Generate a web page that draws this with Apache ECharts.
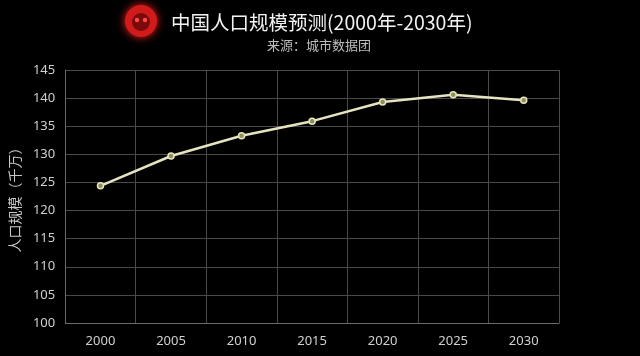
<!DOCTYPE html>
<html><head><meta charset="utf-8">
<script src="https://cdn.jsdelivr.net/npm/echarts@6/dist/echarts.min.js"></script>
<style>html,body{margin:0;padding:0;background:#000;}#c{width:640px;height:356px;}</style>
</head><body><div id="c"></div>
<script>
const years = ['2000','2005','2010','2015','2020','2025','2030'];
const population = [124.4, 129.7, 133.3, 135.9, 139.3, 140.6, 139.6];
const titleText = '中国人口规模预测(2000年-2030年)';
const subtitleText = '来源：城市数据团';
const yAxisName = '人口规模（千万）';

const chart = echarts.init(document.getElementById('c'));
chart.setOption({
  backgroundColor: '#000',
  animation: false,
  title: [{
    text: titleText,
    left: 166, top: 8,
    textStyle: {color: '#f2f2f2', fontSize: 19.5, fontWeight: 'normal', fontFamily: 'Noto Sans CJK SC'}
  }, {
    text: subtitleText,
    left: 262, top: 34,
    textStyle: {color: '#bdbdbd', fontSize: 13, fontWeight: 'normal', fontFamily: 'Noto Sans CJK SC'}
  }],
  graphic: [
    {type: 'circle', shape: {cx: 141, cy: 21, r: 16}, style: {fill: '#d11a1a', shadowBlur: 8, shadowColor: '#ff2020'}},
    {type: 'circle', shape: {cx: 141, cy: 22, r: 9}, style: {fill: '#7a0b0b'}},
    {type: 'circle', shape: {cx: 137, cy: 20, r: 2.2}, style: {fill: '#ff4a4a'}},
    {type: 'circle', shape: {cx: 145, cy: 20, r: 2.2}, style: {fill: '#ff4a4a'}}
  ],
  grid: {left: 64, right: 81, top: 70, bottom: 33},
  xAxis: {
    type: 'category', data: years, boundaryGap: true,
    axisLine: {show: true, lineStyle: {color: '#6a6a6a'}},
    axisTick: {show: false},
    splitLine: {show: true, lineStyle: {color: '#4a4a4a'}},
    axisLabel: {color: '#d0d0d0', fontSize: 13, margin: 12, fontFamily: 'Noto Sans'}
  },
  yAxis: {
    type: 'value', min: 100, max: 145, interval: 5,
    name: yAxisName, nameLocation: 'middle', nameGap: 35, nameRotate: 90,
    nameTextStyle: {color: '#c8c8c8', fontSize: 14, fontFamily: 'Noto Sans CJK SC'},
    axisLine: {show: true, lineStyle: {color: '#6a6a6a'}},
    axisTick: {show: false},
    splitLine: {show: true, lineStyle: {color: '#4a4a4a'}},
    axisLabel: {color: '#d0d0d0', fontSize: 13, margin: 10, fontFamily: 'Noto Sans'}
  },
  series: [{
    type: 'line', data: population,
    symbol: 'circle', symbolSize: 6,
    lineStyle: {color: '#e6e4c0', width: 2.5},
    itemStyle: {color: '#8f8f5a', borderColor: '#e6e4c0', borderWidth: 1.5}
  }]
});
</script></body></html>
